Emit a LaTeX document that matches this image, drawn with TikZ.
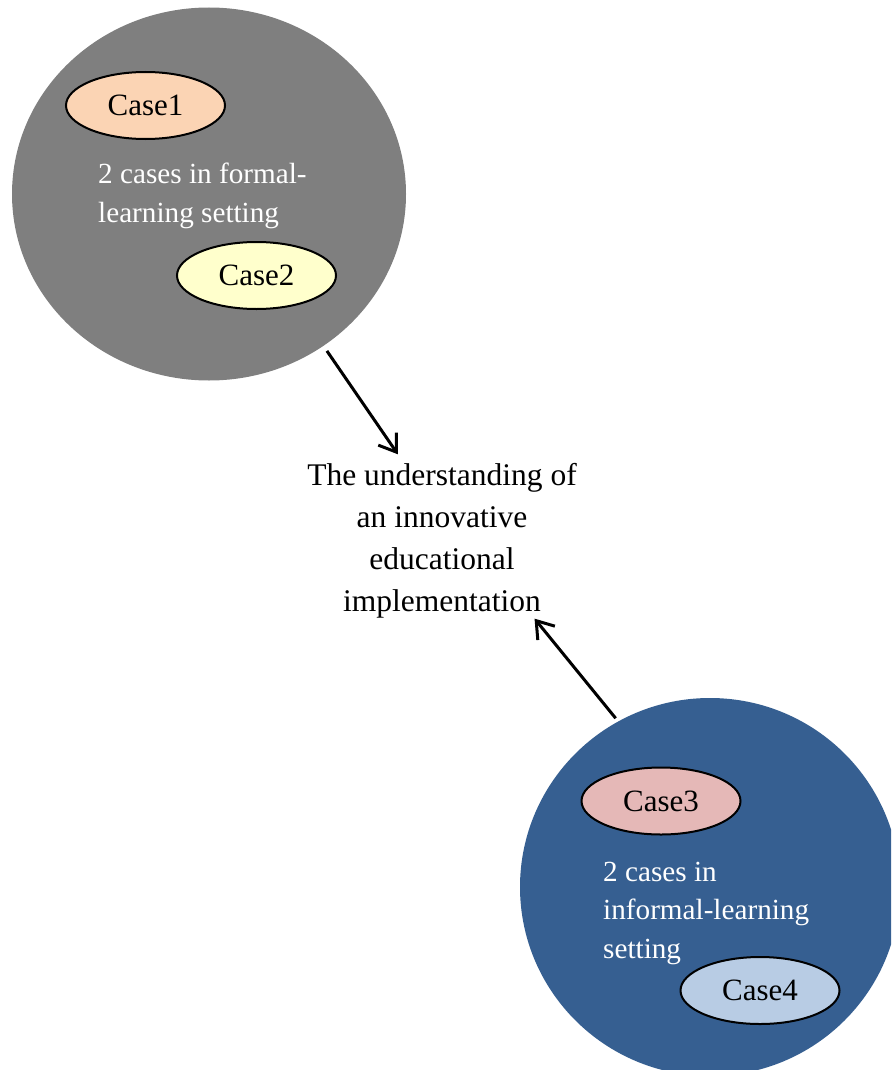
\documentclass[tikz,border=0pt]{standalone}
\usepackage{fontspec}
\setmainfont{Liberation Serif}
\usetikzlibrary{shapes.geometric,arrows.meta}
\definecolor{grayc}{HTML}{7F7F7F}
\definecolor{bluec}{HTML}{365F91}
\definecolor{caseA}{HTML}{FBD4B4}
\definecolor{caseB}{HTML}{FFFFCC}
\definecolor{caseC}{HTML}{E5B8B7}
\definecolor{caseD}{HTML}{B8CCE4}
\begin{document}
\begin{tikzpicture}[x=1pt,y=-1pt,
  bigdisc/.style={ellipse, draw=none, inner sep=0},
  casebox/.style={ellipse, draw=black, line width=2pt, inner sep=0,
    minimum width=159, minimum height=67,
    font=\fontsize{31}{37}\selectfont},
  insidetext/.style={anchor=north west, inner sep=0, align=left, text=white,
    font=\fontsize{29.2}{38.5}\selectfont},
  flowarrow/.style={line width=3pt, -{Straight Barb[length=16pt,width=22pt,line width=3pt]}}
]
\useasboundingbox (0,0) rectangle (891,1070);
\clip (0,0) rectangle (891,1070);

\node[bigdisc, fill=grayc, minimum width=394, minimum height=373] (g) at (209,194) {};
\node[bigdisc, fill=bluec, minimum width=380, minimum height=378] (b) at (710,887) {};

\node[casebox, fill=caseA] (c1) at (145.5,105.5) {Case1};
\node[casebox, fill=caseB] (c2) at (256.5,275.5) {Case2};
\node[casebox, fill=caseC] (c3) at (661,801) {Case3};
\node[casebox, fill=caseD] (c4) at (760,990.5) {Case4};

\node[insidetext] (gt) at (98,162.8) {2 cases in formal-\\learning setting};
\node[insidetext] (bt) at (603,861.7) {2 cases in\\informal-learning\\setting};

\node[align=center, inner sep=0, font=\fontsize{31.5}{42}\selectfont] (c) at (442,541)
  {The understanding of\\an innovative\\educational\\implementation};

\draw[flowarrow, shorten <=6pt, shorten >=11pt] (g.-53) -- (c.116);
\draw[flowarrow, shorten <=4pt] (b.119) -- (c.-40);
\end{tikzpicture}
\end{document}
